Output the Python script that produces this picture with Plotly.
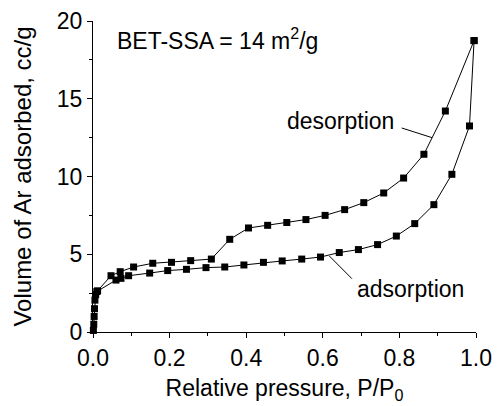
import plotly.graph_objects as go

# Adsorption branch
ads_p = [0.001, 0.002, 0.003, 0.004, 0.005, 0.007, 0.010, 0.060, 0.073, 0.093,
         0.148, 0.195, 0.244, 0.295, 0.344, 0.394, 0.445, 0.494, 0.545, 0.594,
         0.643, 0.693, 0.743, 0.792, 0.840, 0.890, 0.937, 0.983, 0.995]
ads_v = [0.10, 0.50, 1.00, 1.50, 2.05, 2.40, 2.60, 3.34, 3.45, 3.62,
         3.79, 3.95, 4.03, 4.14, 4.18, 4.31, 4.48, 4.57, 4.69, 4.82,
         5.11, 5.30, 5.62, 6.17, 6.97, 8.19, 10.14, 13.25, 18.74]

# Desorption branch
des_p = [0.995, 0.920, 0.864, 0.811, 0.759, 0.707, 0.657, 0.606, 0.556, 0.506,
         0.456, 0.406, 0.357, 0.309, 0.255, 0.205, 0.156, 0.106, 0.071, 0.047, 0.012]
des_v = [18.74, 14.21, 11.43, 9.90, 8.94, 8.32, 7.87, 7.50, 7.23, 7.04,
         6.86, 6.69, 5.96, 4.69, 4.59, 4.48, 4.42, 4.18, 3.88, 3.62, 2.65]

x_ticks = [0.0, 0.2, 0.4, 0.6, 0.8, 1.0]
x_tick_labels = ["0.0", "0.2", "0.4", "0.6", "0.8", "1.0"]
y_ticks = [0, 5, 10, 15, 20]

FONT = "Liberation Sans, Arial, sans-serif"

fig = go.Figure()
for px_, vy in ((ads_p, ads_v), (des_p, des_v)):
    fig.add_trace(go.Scatter(
        x=px_, y=vy, mode="lines+markers",
        line=dict(color="black", width=1),
        marker=dict(symbol="square", size=7, color="black"),
        cliponaxis=False, showlegend=False))

# leader lines
fig.add_shape(type="line", x0=0.806, y0=13.12, x1=0.885, y1=12.50,
              line=dict(color="black", width=1))
fig.add_shape(type="line", x0=0.676, y0=3.43, x1=0.617, y1=4.89,
              line=dict(color="black", width=1))

fig.add_annotation(x=0.647, y=13.55, text="desorption", showarrow=False,
                   font=dict(size=23, color="black", family=FONT))
fig.add_annotation(x=0.830, y=2.75, text="adsorption", showarrow=False,
                   font=dict(size=23, color="black", family=FONT))
fig.add_annotation(x=0.057, y=18.82, text="BET-SSA = 14 m<sup>2</sup>/g",
                   showarrow=False, xanchor="left",
                   font=dict(size=23, color="black", family=FONT))

fig.update_layout(
    width=497, height=406,
    margin=dict(l=93, r=21, t=21, b=74),
    paper_bgcolor="white", plot_bgcolor="white",
    font=dict(family=FONT, size=23, color="black"),
)
fig.update_xaxes(
    range=[0, 1], tickvals=x_ticks, ticktext=x_tick_labels, automargin=False,
    showline=True, linecolor="black", linewidth=1, mirror=False,
    ticks="outside", ticklen=5, tickcolor="black", showgrid=False, zeroline=False,
    tickfont=dict(size=23),
    minor=dict(ticks="outside", ticklen=3, dtick=0.1, tickcolor="black"),
    title=dict(text="Relative pressure, P/P<sub>0</sub>", standoff=10,
               font=dict(size=23)),
)
fig.update_yaxes(
    range=[0, 20], tickvals=y_ticks, automargin=False,
    showline=True, linecolor="black", linewidth=1, mirror=False,
    ticks="outside", ticklen=5, tickcolor="black", showgrid=False, zeroline=False,
    tickfont=dict(size=23),
    minor=dict(ticks="outside", ticklen=3, dtick=2.5, tickcolor="black"),
    title=dict(text="Volume of Ar adsorbed, cc/g", standoff=18,
               font=dict(size=24)),
)

fig.write_html("out.html")
